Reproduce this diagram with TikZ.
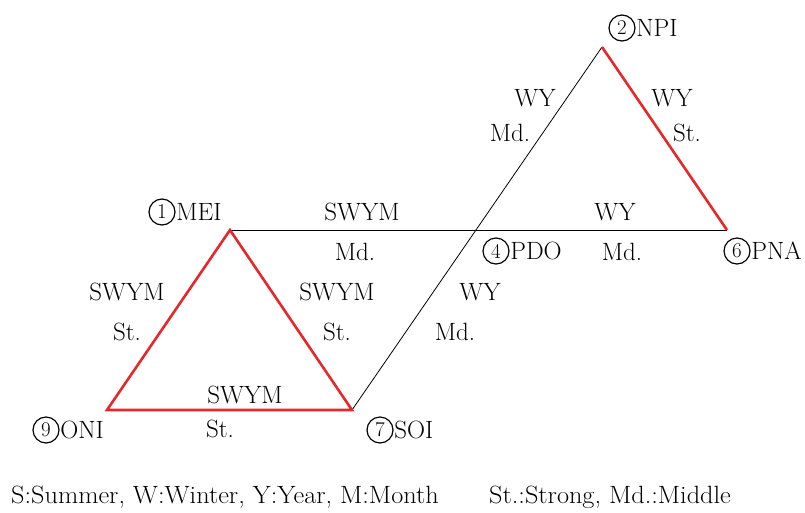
\documentclass[tikz,border=0pt]{standalone}
\begin{document}
\begin{tikzpicture}[x=1pt,y=-1pt,
  lbl/.style={font=\fontsize{25}{25}\selectfont, inner sep=0pt, anchor=center},
  vname/.style={font=\fontsize{25}{25}\selectfont, inner sep=0pt, anchor=west},
  cnum/.style={circle, draw, line width=1.2pt, minimum size=26pt, inner sep=0pt, font=\fontsize{21}{21}\selectfont},
  redln/.style={draw={rgb,255:red,230;green,40;blue,45}, line width=2.6pt, line join=miter},
  blkln/.style={draw=black, line width=0.8pt}]
\useasboundingbox (0,0) rectangle (805,512);
% vertices
\coordinate (MEI) at (230,230);
\coordinate (ONI) at (107,410);
\coordinate (SOI) at (352,410);
\coordinate (NPI) at (602,47);
\coordinate (PNA) at (727,230);
\coordinate (PDO) at (476,230);
% black lines
\draw[blkln] (MEI) -- (PNA);
\draw[blkln] (SOI) -- (NPI);
% red lines
\draw[redln] (MEI) -- (ONI) -- (SOI) -- cycle;
\draw[redln] (NPI) -- (PNA);
% vertex labels
\node[cnum] (n1) at (162,212) {1};
\node[vname] (tMEI) at ([xshift=0.5pt]n1.east) {MEI};
\node[cnum] (n2) at (622,28) {2};
\node[vname] (tNPI) at ([xshift=0.5pt]n2.east) {NPI};
\node[cnum] (n4) at (496,251) {4};
\node[vname] (tPDO) at ([xshift=0.5pt]n4.east) {PDO};
\node[cnum] (n6) at (737,251) {6};
\node[vname] (tPNA) at ([xshift=0.5pt]n6.east) {PNA};
\node[cnum] (n9) at (46,430) {9};
\node[vname] (tONI) at ([xshift=0.5pt]n9.east) {ONI};
\node[cnum] (n7) at (380,430) {7};
\node[vname] (tSOI) at ([xshift=0.5pt]n7.east) {SOI};
% edge labels
\node[lbl] (a1) at (362,212) {SWYM};
\node[lbl] (a2) at (355,252) {Md.};
\node[lbl] (b1) at (615,212) {WY};
\node[lbl] (b2) at (622,252) {Md.};
\node[lbl] (c1) at (535,98) {WY};
\node[lbl] (c2) at (510,133) {Md.};
\node[lbl] (d1) at (672,98) {WY};
\node[lbl] (d2) at (687,133) {St.};
\node[lbl] (e1) at (127,292) {SWYM};
\node[lbl] (e2) at (127,332) {St.};
\node[lbl] (f1) at (337,292) {SWYM};
\node[lbl] (f2) at (337,332) {St.};
\node[lbl] (g1) at (480,292) {WY};
\node[lbl] (g2) at (455,332) {Md.};
\node[lbl] (h1) at (245,395) {SWYM};
\node[lbl] (h2) at (220,429) {St.};
% legend
\node[lbl,xscale=1.05] (leg1) at (225,497) {S:Summer, W:Winter, Y:Year, M:Month};
\node[lbl,xscale=1.05] (leg2) at (610,497) {St.:Strong, Md.:Middle};
\end{tikzpicture}
\end{document}
